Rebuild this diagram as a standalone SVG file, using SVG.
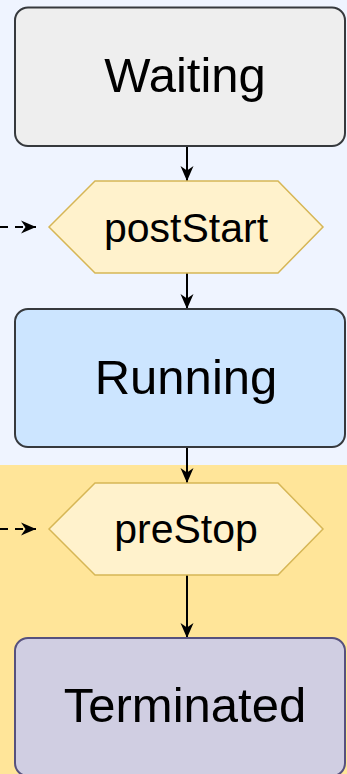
<svg xmlns="http://www.w3.org/2000/svg" width="347" height="774" viewBox="0 0 347 774">
  <style>
    .state { stroke-width: 2; }
    .hook { fill: #fff2cc; stroke: #d6b656; stroke-width: 1.5; }
    .big { font-family: "Liberation Sans", Arial, sans-serif; font-size: 49px; fill: #000; text-anchor: middle; }
    .small { font-family: "Liberation Sans", Arial, sans-serif; font-size: 41px; fill: #000; text-anchor: middle; }
    .edge { fill: none; stroke: #000; stroke-width: 2; }
    .dashed { stroke-dasharray: 8 7; }
  </style>
  <defs>
    <marker id="arrow" viewBox="0 0 16 16" refX="15" refY="8" markerWidth="16" markerHeight="16" markerUnits="userSpaceOnUse" orient="auto">
      <path d="M0,1.5 L15,8 L0,14.5 L4.5,8 Z" fill="#000"/>
    </marker>
  </defs>

  <!-- lane backgrounds -->
  <rect x="0" y="0" width="347" height="465" fill="#eff4ff"/>
  <rect x="0" y="465" width="347" height="309" fill="#ffe599"/>

  <g id="connectors">
    <line class="edge" x1="187" y1="146" x2="187" y2="181" marker-end="url(#arrow)"/>
    <line class="edge" x1="187" y1="273" x2="187" y2="309" marker-end="url(#arrow)"/>
    <line class="edge" x1="187" y1="447" x2="187" y2="483" marker-end="url(#arrow)"/>
    <line class="edge" x1="187" y1="575" x2="187" y2="638" marker-end="url(#arrow)"/>
    <line class="edge dashed" x1="0" y1="227" x2="36" y2="227" marker-end="url(#arrow)"/>
    <line class="edge dashed" x1="0" y1="529" x2="36" y2="529" marker-end="url(#arrow)"/>
  </g>

  <g id="waiting">
    <rect class="state" x="15" y="7.5" width="330" height="138.5" rx="13" fill="#eeeeee" stroke="#36393d"/>
    <text class="big" x="185" y="92">Waiting</text>
  </g>

  <g id="postStart">
    <polygon class="hook" points="49,227 95,181 278,181 323,227 278,273 95,273"/>
    <text class="small" x="186" y="242">postStart</text>
  </g>

  <g id="running">
    <rect class="state" x="15" y="309" width="330" height="138" rx="13" fill="#cce5ff" stroke="#36393d"/>
    <text class="big" x="186" y="394">Running</text>
  </g>

  <g id="preStop">
    <polygon class="hook" points="49,529 95,483 278,483 323,529 278,575 95,575"/>
    <text class="small" x="186" y="543">preStop</text>
  </g>

  <g id="terminated">
    <rect class="state" x="15" y="638" width="330" height="138" rx="13" fill="#d0cee2" stroke="#56517e"/>
    <text class="big" x="185" y="722">Terminated</text>
  </g>
</svg>
